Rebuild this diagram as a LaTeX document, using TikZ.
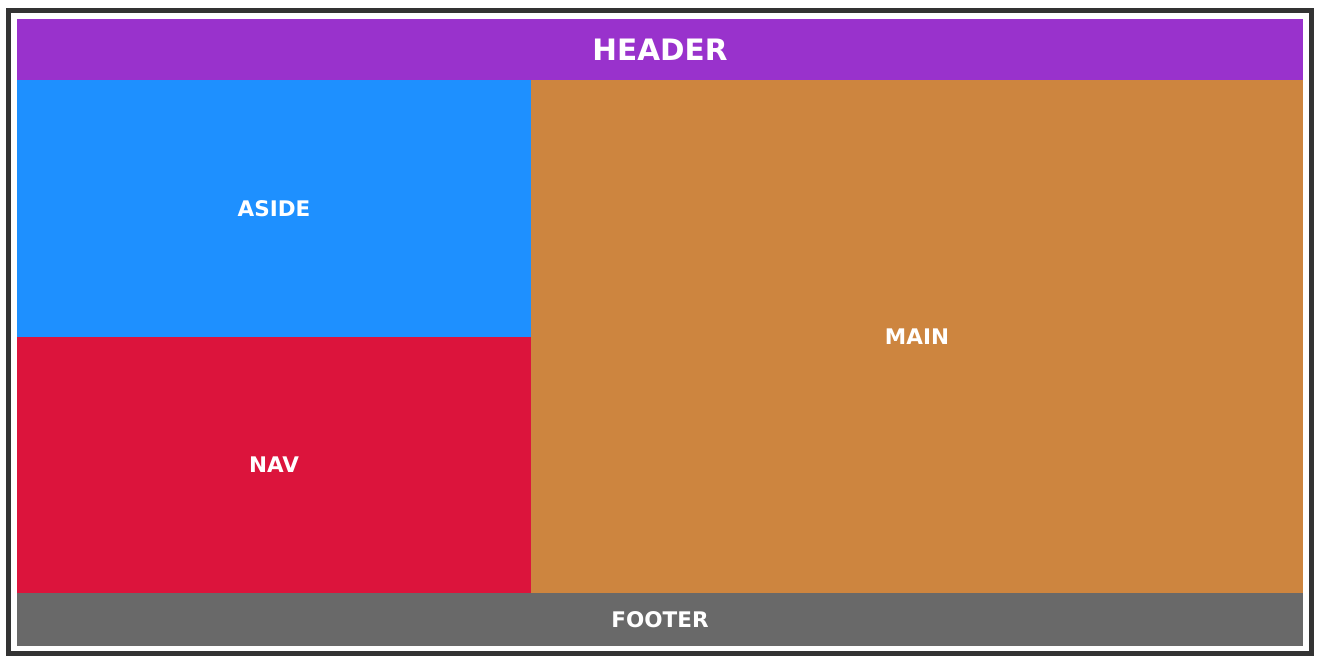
\documentclass[tikz,border=0pt]{standalone}
\usepackage{fontspec}
\setmainfont{DejaVu Sans}
\usepackage{tikz}

\definecolor{headercol}{HTML}{9932CC}
\definecolor{asidecol}{HTML}{1E90FF}
\definecolor{navcol}{HTML}{DC143C}
\definecolor{maincol}{HTML}{CD853F}
\definecolor{footercol}{HTML}{696969}
\definecolor{framecol}{HTML}{333333}

\tikzset{
  region/.style={inner sep=0pt, outer sep=0pt, text=white, font=\bfseries\fontsize{21.5}{25}\selectfont},
}

\begin{document}
\begin{tikzpicture}[x=1pt, y=-1pt]
                \useasboundingbox (0,0) rectangle (1320,662);
                % Frame
                \draw[framecol, line width=5pt] (8.5,10.5) rectangle (1311.5,653.5);
                % Nodes
                \node[region, fill=headercol, minimum width=1286pt, minimum height=61pt,
                      font=\bfseries\fontsize{29.5}{34}\selectfont] (header) at (660,49.5) {HEADER};
                \node[region, fill=asidecol, minimum width=514pt, minimum height=257pt] (aside) at (274,208.5) {ASIDE};
                \node[region, fill=navcol, minimum width=514pt, minimum height=256pt] (nav) at (274,465) {NAV};
                \node[region, fill=maincol, minimum width=772pt, minimum height=513pt] (main) at (917,336.5) {MAIN};
                \node[region, fill=footercol, minimum width=1286pt, minimum height=53pt] (footer) at (660,619.5) {FOOTER};
            \end{tikzpicture}
\end{document}
